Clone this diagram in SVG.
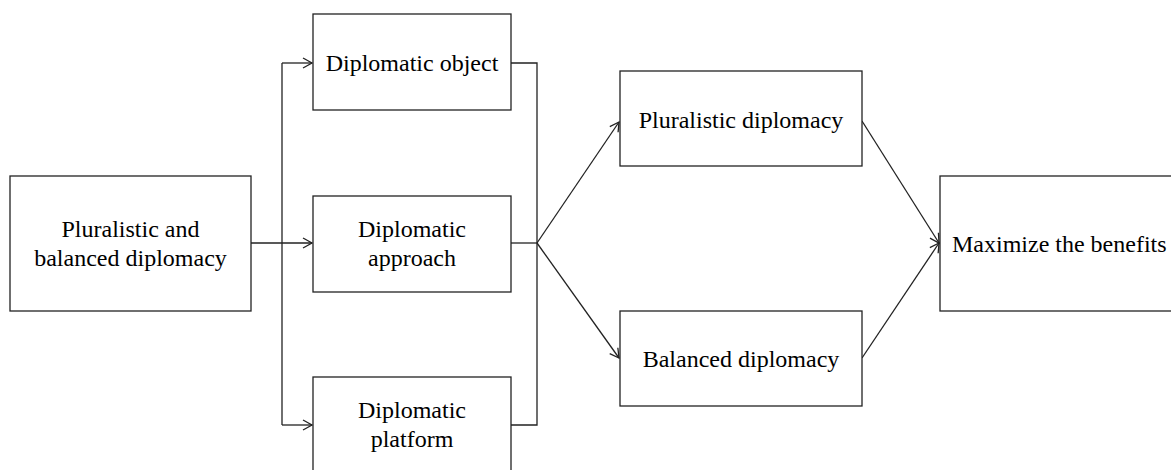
<svg xmlns="http://www.w3.org/2000/svg" width="1171" height="470" viewBox="0 0 1171 470">
<style>
.box{fill:#fff;stroke:#222;stroke-width:1.3}
.t{font-family:"Liberation Serif","Times New Roman",serif;font-size:24px;fill:#000;text-anchor:middle}
.c{fill:none;stroke:#222;stroke-width:1.3}
</style>
<defs>
<marker id="arr" markerUnits="userSpaceOnUse" markerWidth="14" markerHeight="14" refX="11" refY="7" orient="auto">
<path d="M2,2 L11,7 L2,12" fill="none" stroke="#222" stroke-width="1.3"/>
</marker>
</defs>
<rect width="1171" height="470" fill="#fff"/>
<g id="connectors">
<path class="c" d="M251,243 H312" marker-end="url(#arr)"/>
<path class="c" d="M282,63 V425"/>
<path class="c" d="M282,63 H312" marker-end="url(#arr)"/>
<path class="c" d="M282,425 H312" marker-end="url(#arr)"/>
<path class="c" d="M511,63 H537 V425 H511"/>
<path class="c" d="M511,243 H537"/>
<path class="c" d="M537,243 L619,122" marker-end="url(#arr)"/>
<path class="c" d="M537,243 L619,358" marker-end="url(#arr)"/>
<path class="c" d="M862,121 L939,243" marker-end="url(#arr)"/>
<path class="c" d="M862,358 L939,243" marker-end="url(#arr)"/>
</g>
<g id="node-main">
<rect class="box" x="10" y="176" width="241" height="135"/>
<text class="t" x="130.5" y="237">Pluralistic and</text>
<text class="t" x="130.5" y="266">balanced diplomacy</text>
</g>
<g id="node-object">
<rect class="box" x="313" y="14" width="198" height="96"/>
<text class="t" x="412" y="71">Diplomatic object</text>
</g>
<g id="node-approach">
<rect class="box" x="313" y="196" width="198" height="96"/>
<text class="t" x="412" y="237">Diplomatic</text>
<text class="t" x="412" y="266">approach</text>
</g>
<g id="node-platform">
<rect class="box" x="313" y="377" width="198" height="100"/>
<text class="t" x="412" y="418">Diplomatic</text>
<text class="t" x="412" y="447">platform</text>
</g>
<g id="node-pluralistic">
<rect class="box" x="620" y="71" width="242" height="95"/>
<text class="t" x="741" y="128">Pluralistic diplomacy</text>
</g>
<g id="node-balanced">
<rect class="box" x="620" y="311" width="242" height="95"/>
<text class="t" x="741" y="367">Balanced diplomacy</text>
</g>
<g id="node-maximize">
<rect class="box" x="940" y="176" width="240" height="135"/>
<text class="t" x="952" y="252" style="text-anchor:start">Maximize the benefits</text>
</g>
</svg>
